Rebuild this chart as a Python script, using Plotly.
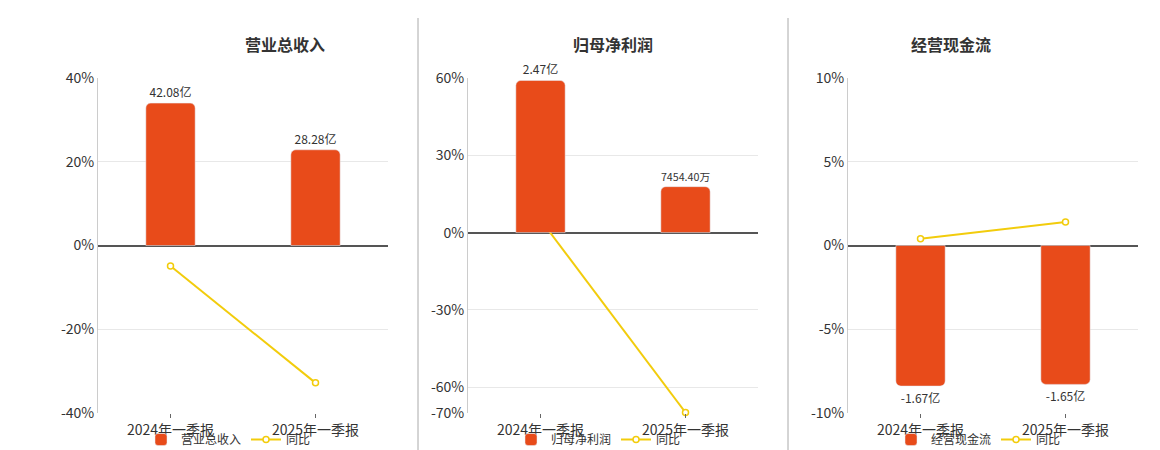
import plotly.graph_objects as go

periods = ["2024年一季报", "2025年一季报"]
titles = ["营业总收入", "归母净利润", "经营现金流"]
bar_values = [[42.08, 28.28], [2.47, 0.745440], [-1.67, -1.65]]
bar_labels = [["42.08亿", "28.28亿"], ["2.47亿", "7454.40万"], ["-1.67亿", "-1.65亿"]]
yoy = [[-4.9, -32.8], [5.0, -69.8], [0.4, 1.4]]
pct_ranges = [[-40, 40], [-70, 60], [-10, 10]]
pct_ticks = [[-40, -20, 0, 20, 40], [-70, -60, -30, 0, 30, 60], [-10, -5, 0, 5, 10]]
bar_ranges = [[-49.5, 49.5], [-2.93, 2.51], [-1.99, 1.99]]

BAR = "#E84B1A"
LINE = "#F2CC0C"
W, H = 1160, 450
x_dom = [(90, 380), (460, 750), (840, 1130)]
legend_x = [133, 503, 883]
y_dom = [1 - 405 / H, 1 - 70 / H]

fig = go.Figure()
layout = {}
for i in range(3):
    n = i + 1
    xa = "x" if i == 0 else f"x{n}"
    ya_pct = f"y{2*i+1}" if i > 0 else "y"
    ya_bar = f"y{2*i+2}"
    leg = "legend" if i == 0 else f"legend{n}"
    fig.add_trace(go.Bar(
        x=periods, y=bar_values[i], text=bar_labels[i], textposition="outside",
        textfont=dict(size=12, color="#333"), marker=dict(color=BAR, cornerradius=5),
        width=0.34, name=titles[i], xaxis=xa, yaxis=ya_bar, legend=leg, cliponaxis=False,
    ))
    fig.add_trace(go.Scatter(
        x=periods, y=yoy[i], mode="lines+markers", name="同比",
        line=dict(color=LINE, width=2), marker=dict(size=6, color="white", line=dict(color=LINE, width=1.5)),
        xaxis=xa, yaxis=ya_pct, legend=leg, cliponaxis=False,
    ))
    xk = "xaxis" if i == 0 else f"xaxis{n}"
    layout[xk] = dict(domain=[x_dom[i][0] / W, x_dom[i][1] / W], anchor=ya_pct, automargin=False,
                      tickfont=dict(size=14, color="#333"), showgrid=False,
                      ticks="outside", ticklen=4, tickcolor="#666")
    pk = "yaxis" if i == 0 else f"yaxis{2*i+1}"
    layout[pk] = dict(domain=y_dom, anchor=xa, range=pct_ranges[i], tickvals=pct_ticks[i], automargin=False,
                      ticktext=[f"{t}%" for t in pct_ticks[i]], tickfont=dict(size=14, color="#333"),
                      gridcolor="#e8e8e8", zeroline=True, zerolinecolor="#555", zerolinewidth=1.5,
                      showline=True, linecolor="#ccc")
    layout[f"yaxis{2*i+2}"] = dict(overlaying=ya_pct, range=bar_ranges[i], visible=False,
                                   anchor=xa, automargin=False)
    cx = (x_dom[i][0] + x_dom[i][1]) / 2 / W
    layout[leg] = dict(orientation="h", x=legend_x[i] / W, y=1 - 446 / H, xanchor="left", yanchor="bottom",
                       font=dict(size=12, color="#333"), bgcolor="rgba(0,0,0,0)",
                       itemwidth=30, tracegroupgap=0)
    fig.add_annotation(text=f"<b>{titles[i]}</b>", x=cx, y=1 - 22 / H, xref="paper", yref="paper",
                       showarrow=False, font=dict(size=16, color="#333"))

for sx in (410, 780):
    fig.add_shape(type="line", xref="paper", yref="paper", x0=sx / W, x1=sx / W,
                  y0=1 - 443 / H, y1=1 - 10 / H, line=dict(color="#aaa", width=1))

fig.update_layout(width=W, height=H, margin=dict(l=0, r=0, t=0, b=0), plot_bgcolor="white",
                  paper_bgcolor="white", font=dict(family="Noto Sans CJK SC"), barmode="group",
                  **layout)
fig.write_html("out.html")
